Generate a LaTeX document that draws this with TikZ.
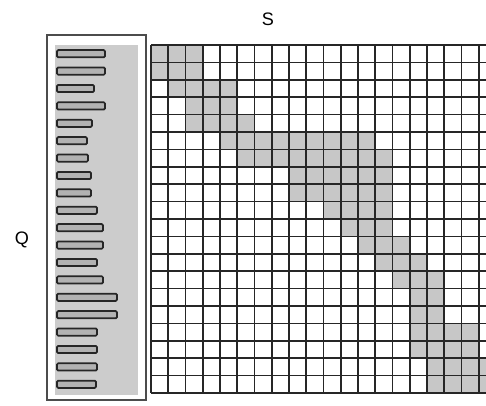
\documentclass[tikz,border=0pt]{standalone}
\usepackage{fontspec}
\setmainfont{Liberation Sans}
\usepackage{tikz}
\usetikzlibrary{positioning}
\tikzset{
  gridline/.style = {line width=0.6mm, black!85},
  cellfill/.style = {fill=black!22},
  qbox/.style     = {draw=black!70, line width=0.45mm},
  qfill/.style    = {fill=black!20},
  qbar/.style     = {draw=black!85, line width=0.6mm, fill=black!30,
                     rounded corners=1.2pt},
  axlab/.style    = {font=\fontsize{18}{20}\selectfont, inner sep=0pt},
}
\begin{document}
\begin{tikzpicture}[x=0.35mm, y=-0.35mm]
  \useasboundingbox (0,0) rectangle (486,405);
  % labels
  \node[axlab] (S) at (268,19) {S};
  \node[axlab] (Q) at (22,240) {Q};
  % query box
  \draw[qbox] (47,35) rectangle (146,400);
  \fill[qfill] (55,45) rectangle (138,395);
  \foreach \r/\len in {0/105, 1/105, 2/94, 3/105, 4/92, 5/87, 6/88, 7/91,
                       8/91, 9/97, 10/103, 11/103, 12/97, 13/103, 14/117,
                       15/117, 16/97, 17/97, 18/97, 19/96}
    \draw[qbar] (57,{53.7+17.4*\r-3.6}) rectangle (\len,{53.7+17.4*\r+3.6});
  % shaded cells
  \foreach \r/\a/\b in {0/0/2, 1/0/2, 2/1/4, 3/2/4, 4/2/5, 5/4/12, 6/5/13,
                        7/8/13, 8/8/13, 9/10/13, 10/11/13, 11/12/14,
                        12/13/15, 13/14/16, 14/15/16, 15/15/16, 16/15/18,
                        17/15/18, 18/16/19, 19/16/19}
    \foreach \c in {\a,...,\b}
      \fill[cellfill] ({151+17.25*\c},{45+17.4*\r}) rectangle ++(17.25,17.4);
  % grid
  \begin{scope}
    \clip (0,0) rectangle (486,405);
    \foreach \c in {0,...,20}
      \draw[gridline] ({151+17.25*\c},45) -- ({151+17.25*\c},393);
    \foreach \r in {0,...,20}
      \draw[gridline] (151,{45+17.4*\r}) -- (490,{45+17.4*\r});
  \end{scope}
\end{tikzpicture}
\end{document}
